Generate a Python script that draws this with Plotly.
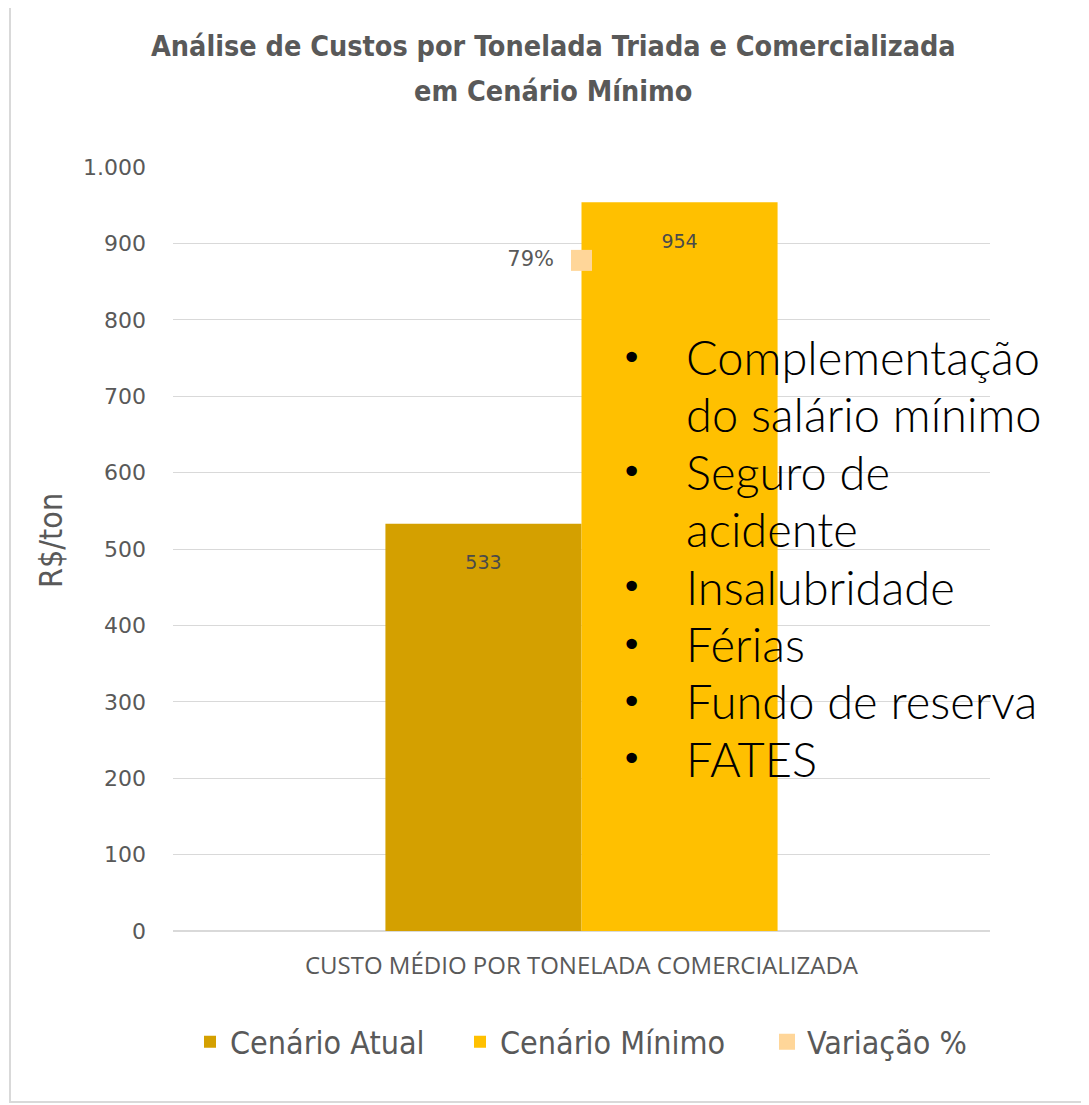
import plotly.graph_objects as go

categoria = ['CUSTO MÉDIO POR TONELADA COMERCIALIZADA']
cenario_atual = [533]
cenario_minimo = [954]
variacao = [0.79]
y_ticks = [0, 100, 200, 300, 400, 500, 600, 700, 800, 900, 1000]
y_tick_labels = ['0', '100', '200', '300', '400', '500', '600', '700', '800', '900', '1.000']
titulo = ['Análise de Custos por Tonelada Triada e Comercializada', 'em Cenário Mínimo']
bullets = [
    ('•', 'Complementação'),
    ('', 'do salário mínimo'),
    ('•', 'Seguro de'),
    ('', 'acidente'),
    ('•', 'Insalubridade'),
    ('•', 'Férias'),
    ('•', 'Fundo de reserva'),
    ('•', 'FATES'),
]

GRAY = '#595959'
FONT = 'DejaVu Sans Condensed'
OFF = 8  # margem do body da pagina

# area do grafico na imagem de referencia (pixels)
PL, PR, PT, PB = 173, 990, 167, 931
PW, PH = PR - PL, PB - PT


def px(x):
    return (x - PL) / PW


def py(y):
    return (PB - y) / PH


label_font = {'color': '#4A4A4A', 'size': 19, 'family': 'DejaVu Sans'}

fig = go.Figure()
fig.add_trace(go.Bar(
    x=categoria, y=cenario_atual, name='Cenário Atual', legend='legend',
    marker={'color': '#D4A000', 'line': {'width': 0}},
    text=[f'&nbsp;<br>{v}' for v in cenario_atual], textposition='inside',
    insidetextanchor='end', textfont=label_font,
))
fig.add_trace(go.Bar(
    x=categoria, y=cenario_minimo, name='Cenário Mínimo', legend='legend2',
    marker={'color': '#FFC000', 'line': {'width': 0}},
    text=[f'&nbsp;<br>{v}' for v in cenario_minimo], textposition='inside',
    insidetextanchor='end', textfont=label_font,
))
fig.add_trace(go.Scatter(
    x=categoria, y=variacao, name='Variação %', yaxis='y2', legend='legend3',
    mode='markers+text', marker={'symbol': 'square', 'size': 21, 'color': '#FFD699'},
    text=[f'{v:.0%}&nbsp;&nbsp;' for v in variacao], textposition='middle left',
    textfont={'color': GRAY, 'size': 21, 'family': 'DejaVu Sans'},
))

# titulo em duas linhas
for i, linha in enumerate(titulo):
    fig.add_annotation(x=px(553), y=py(47 + i * 44), xref='paper', yref='paper',
                       text=f'<b>{linha}</b>', showarrow=False, xanchor='center', yanchor='middle',
                       font={'size': 28.5, 'color': GRAY, 'family': FONT})

# titulo do eixo y
fig.add_annotation(x=px(51), y=py(540), xref='paper', yref='paper', text='R$/ton',
                   textangle=-90, showarrow=False, xanchor='center', yanchor='middle',
                   font={'size': 32, 'color': GRAY, 'family': FONT})

# caixa de texto com os itens
for i, (b, t) in enumerate(bullets):
    yp = py(357 + i * 57.4)
    if b:
        fig.add_annotation(x=px(631), y=yp, xref='paper', yref='paper', text=b,
                           showarrow=False, xanchor='center', yanchor='middle',
                           font={'size': 36, 'color': 'black', 'family': 'DejaVu Sans'})
    fig.add_annotation(x=px(684), y=yp, xref='paper', yref='paper', text=t,
                       showarrow=False, xanchor='left', yanchor='middle',
                       font={'size': 47, 'color': 'black', 'family': 'Lato', 'weight': 300})

fig.add_shape(type='rect', xref='paper', yref='paper', x0=px(10), x1=px(1100),
              y0=py(1102), y1=py(6), line={'color': '#D9D9D9', 'width': 2}, layer='below')

leg = {'orientation': 'h', 'xanchor': 'left', 'y': py(1042), 'yanchor': 'middle',
       'font': {'size': 32, 'color': GRAY}, 'itemwidth': 30, 'bgcolor': 'rgba(0,0,0,0)'}

fig.update_layout(
    width=1089 - OFF, height=1105 - OFF,
    margin={'l': PL - OFF, 'r': 1089 - PR, 't': PT - OFF, 'b': 1105 - PB},
    paper_bgcolor='white', plot_bgcolor='white',
    barmode='group', bargap=0.52, bargroupgap=0,
    font={'family': FONT, 'color': GRAY},
    xaxis={'showgrid': False, 'tickfont': {'size': 24, 'color': GRAY, 'family': 'Open Sans'},
           'ticks': '', 'showline': False, 'zeroline': False, 'ticklabelstandoff': 18},
    yaxis={'range': [0, 1000], 'tickvals': y_ticks, 'ticktext': y_tick_labels,
           'gridcolor': '#D9D9D9', 'gridwidth': 1, 'zeroline': True, 'zerolinecolor': '#D9D9D9',
           'tickfont': {'size': 22, 'color': GRAY, 'family': 'DejaVu Sans'}, 'ticklabelstandoff': 26},
    yaxis2={'range': [0, 0.9], 'overlaying': 'y', 'side': 'right', 'visible': False},
    legend={**leg, 'x': px(190)},
    legend2={**leg, 'x': px(460)},
    legend3={**leg, 'x': px(767)},
    showlegend=True,
)

fig.write_html('out.html')
